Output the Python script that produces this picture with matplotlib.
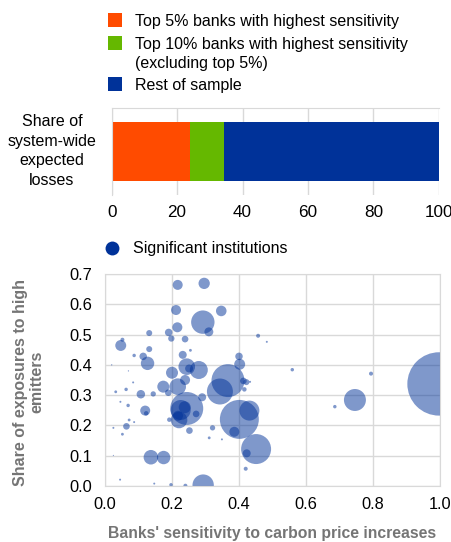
"""Bank sensitivity to carbon price increases: loss shares and bubble scatter."""
import numpy as np
import matplotlib.pyplot as plt
from matplotlib.patches import Rectangle
from matplotlib.lines import Line2D

plt.rcParams['font.family'] = ['Liberation Sans', 'DejaVu Sans']
plt.rcParams['font.size'] = 11.5

W, H = 452, 542  # figure size in pixels, used to place the legend keys

# top panel: share of system-wide expected losses (%)
groups = ["Top 5% banks with highest sensitivity",
          "Top 10% banks with highest sensitivity\n(excluding top 5%)",
          "Rest of sample"]
shares = [24.0, 10.3, 65.7]
group_colors = ["#FF4B00", "#65B800", "#003299"]

# bottom panel: significant institutions
sensitivity = [0.217, 0.296, 0.212, 0.347, 0.292, 0.310, 0.216, 0.190, 0.198, 0.132,
               0.239, 0.047, 0.052, 0.132, 0.087, 0.114, 0.127, 0.255, 0.232, 0.244,
               0.251, 0.280, 0.200, 0.400, 0.402, 0.457, 0.483, 0.020, 0.070, 0.367,
               0.343, 0.413, 0.422, 0.416, 0.401, 0.431, 0.386, 0.451, 0.423, 0.420,
               0.321, 0.311, 0.349, 0.293, 0.240, 0.239, 0.174, 0.217, 0.189, 0.144,
               0.107, 0.063, 0.032, 0.084, 0.120, 0.123, 0.069, 0.046, 0.072, 0.087,
               0.064, 0.052, 0.025, 0.137, 0.175, 0.025, 0.045, 0.147, 0.197, 0.244,
               0.226, 0.238, 0.221, 0.272, 0.290, 0.252, 0.192, 0.559, 0.794, 0.686,
               0.746, 0.997, 0.433, 0.218]
share_high = [0.664, 0.669, 0.581, 0.578, 0.541, 0.509, 0.524, 0.507, 0.487, 0.505,
              0.485, 0.464, 0.483, 0.452, 0.431, 0.428, 0.405, 0.448, 0.433, 0.394,
              0.388, 0.383, 0.374, 0.428, 0.402, 0.496, 0.476, 0.400, 0.380, 0.348,
              0.312, 0.347, 0.343, 0.319, 0.220, 0.249, 0.179, 0.122, 0.108, 0.057,
              0.192, 0.159, 0.154, 0.003, 0.001, 0.350, 0.328, 0.328, 0.308, 0.304,
              0.303, 0.319, 0.311, 0.342, 0.249, 0.240, 0.266, 0.278, 0.218, 0.211,
              0.197, 0.171, 0.192, 0.095, 0.094, 0.101, 0.021, 0.008, 0.004, 0.256,
              0.251, 0.260, 0.218, 0.238, 0.293, 0.183, 0.219, 0.384, 0.371, 0.262,
              0.284, 0.337, 0.344, 0.232]
# relative bank size (bubble area)
bank_size = [25, 32, 25, 28, 137, 20, 25, 14, 10, 9,
             11, 30, 4, 9, 3, 14, 45, 2, 16, 69,
             16, 81, 36, 14, 30, 4, 1, 0.4, 0.4, 272,
             169, 11, 9, 5, 380, 100, 25, 225, 16, 4,
             7, 2, 1, 114, 4, 25, 36, 69, 11, 7,
             18, 3, 2, 1, 25, 5, 3, 1, 2, 1,
             11, 2, 1, 53, 45, 0.3, 1, 1, 3, 272,
             100, 36, 69, 11, 16, 11, 5, 3, 4, 3,
             121, 1005, 1, 25]

fig = plt.figure(figsize=(W / 100, H / 100), dpi=100)

# --- legend for the bar (drawn by hand so the key sits on the first line) ---
key_rows = [20, 43, 84]
for label, col, row in zip(groups, group_colors, key_rows):
    fig.add_artist(Rectangle((108 / W, 1 - (row + 7) / H), 14 / W, 14 / H,
                             transform=fig.transFigure, facecolor=col, edgecolor='none'))
    fig.text(135 / W, 1 - (row - 6) / H, label, ha='left', va='top', linespacing=1.3)

# --- stacked bar ---
ax1 = fig.add_axes([0.247, 0.640, 0.724, 0.161])
left = 0
for val, col in zip(shares, group_colors):
    ax1.barh(0, val, left=left, height=0.667, color=col)
    left += val
ax1.set_xlim(0, 100)
ax1.set_ylim(-0.5, 0.5)
ax1.set_xticks(np.arange(0, 101, 20))
ax1.set_yticks([])
ax1.grid(axis='x', color='#d9d9d9', linewidth=1)
ax1.set_axisbelow(True)
for side in ['right', 'bottom']:
    ax1.spines[side].set_visible(False)
for side in ['left', 'top']:
    ax1.spines[side].set_color('#d9d9d9')
ax1.tick_params(axis='x', length=0, pad=7, labelsize=12.3)
fig.text(52 / W, 1 - 151 / H, "Share of\nsystem-wide\nexpected\nlosses", ha='center', va='center',
         linespacing=1.38)

# --- bubble scatter ---
ax2 = fig.add_axes([0.2323, 0.1033, 0.7412, 0.3912])
ax2.scatter(sensitivity, share_high, s=np.array(bank_size) * 2.07,
            color='#003299', alpha=0.5, linewidths=0)
ax2.set_xlim(0, 1.0)
ax2.set_ylim(0, 0.7)
ax2.set_xticks(np.arange(0, 1.01, 0.2))
ax2.set_yticks(np.arange(0, 0.71, 0.1))
ax2.xaxis.set_major_formatter(plt.FormatStrFormatter('%.1f'))
ax2.yaxis.set_major_formatter(plt.FormatStrFormatter('%.1f'))
ax2.grid(color='#d9d9d9', linewidth=1)
ax2.set_axisbelow(True)
for side in ax2.spines.values():
    side.set_color('#d9d9d9')
ax2.tick_params(axis='x', length=0, pad=8, labelsize=11.8)
ax2.tick_params(axis='y', length=0, pad=9, labelsize=11.8)
ax2.set_xlabel("Banks' sensitivity to carbon price increases", fontweight='bold',
               color='#757575', fontsize=11.3)
ax2.xaxis.set_label_coords(0.5, -0.188)
ax2.set_ylabel("Share of exposures to high\nemitters", fontweight='bold',
               color='#757575', linespacing=1.1)
ax2.yaxis.set_label_coords(-0.18, 0.49)

# legend key for the scatter
fig.add_artist(Line2D([112 / W], [1 - 248 / H], marker='o', linestyle='none', markersize=10,
                      markerfacecolor='#003299', markeredgecolor='none',
                      transform=fig.transFigure))
fig.text(133 / W, 1 - 248 / H, "Significant institutions", ha='left', va='center')

fig.savefig("out.png", dpi=100)
plt.close(fig)
